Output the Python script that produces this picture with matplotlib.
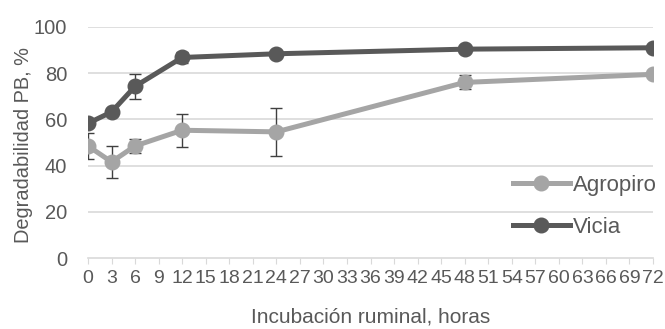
import matplotlib
matplotlib.use('Agg')
import numpy as np
import matplotlib.pyplot as plt

hours = [0, 3, 6, 12, 24, 48, 72]
agropiro = [48.5, 41.6, 48.5, 55.3, 54.6, 76.0, 79.5]
agropiro_err = [5.5, 7.0, 3.0, 7.2, 10.3, 3.0, 0.0]
vicia = [58.3, 63.2, 74.3, 86.8, 88.4, 90.4, 91.0]
vicia_err = [1.5, 1.5, 5.3, 2.5, 0.0, 0.0, 0.0]
xticks = list(range(0, 73, 3))
yticks = [0, 20, 40, 60, 80, 100]

plt.rcParams['font.family'] = ['Liberation Sans', 'DejaVu Sans']
txt = '#595959'

fig = plt.figure(figsize=(6.65, 3.29), dpi=100)
ax = fig.add_axes([0.1323, 0.2158, 0.8497, 0.7022])
ax.set_xlim(0, 72)
ax.set_ylim(0, 100)

for y in yticks[1:]:
    ax.axhline(y, color='#d9d9d9', lw=1.2, zorder=0)

ax.errorbar(hours, agropiro, yerr=agropiro_err, fmt='none', ecolor='#404040',
            elinewidth=1.0, capsize=4, capthick=1.0, zorder=1)
ax.errorbar(hours, vicia, yerr=vicia_err, fmt='none', ecolor='#404040',
            elinewidth=1.0, capsize=4, capthick=1.0, zorder=1)
ax.plot(hours, agropiro, '-o', color='#a5a5a5', lw=3.6, ms=10.5, label='Agropiro', zorder=2)
ax.plot(hours, vicia, '-o', color='#595959', lw=3.6, ms=10.5, label='Vicia', zorder=3)

ax.set_xticks(xticks)
ax.set_xticklabels([str(t) for t in xticks], fontsize=14, color=txt)
ax.set_yticks(yticks)
ax.set_yticklabels([str(t) for t in yticks], fontsize=14.5, color=txt)
ax.tick_params(axis='x', direction='out', length=4.5, color='#d9d9d9', pad=4)
ax.tick_params(axis='y', length=0, pad=15)
for s in ['top', 'right', 'left']:
    ax.spines[s].set_visible(False)
ax.spines['bottom'].set_color('#d9d9d9')
ax.spines['bottom'].set_linewidth(1.2)

ax.set_xlabel('Incubación ruminal, horas', fontsize=15, color=txt)
ax.xaxis.set_label_coords(0.5, -0.215)
ax.set_ylabel('Degradabilidad PB, %', fontsize=14.4, color=txt)
ax.yaxis.set_label_coords(-0.097, 0.49)

leg = ax.legend(loc='center left', bbox_to_anchor=(0.752, 0.223), frameon=False,
                fontsize=16, handlelength=2.57, handletextpad=0.14, labelspacing=0.95,
                labelcolor=txt, borderpad=0, borderaxespad=0)

fig.savefig('out.png', dpi=100)
